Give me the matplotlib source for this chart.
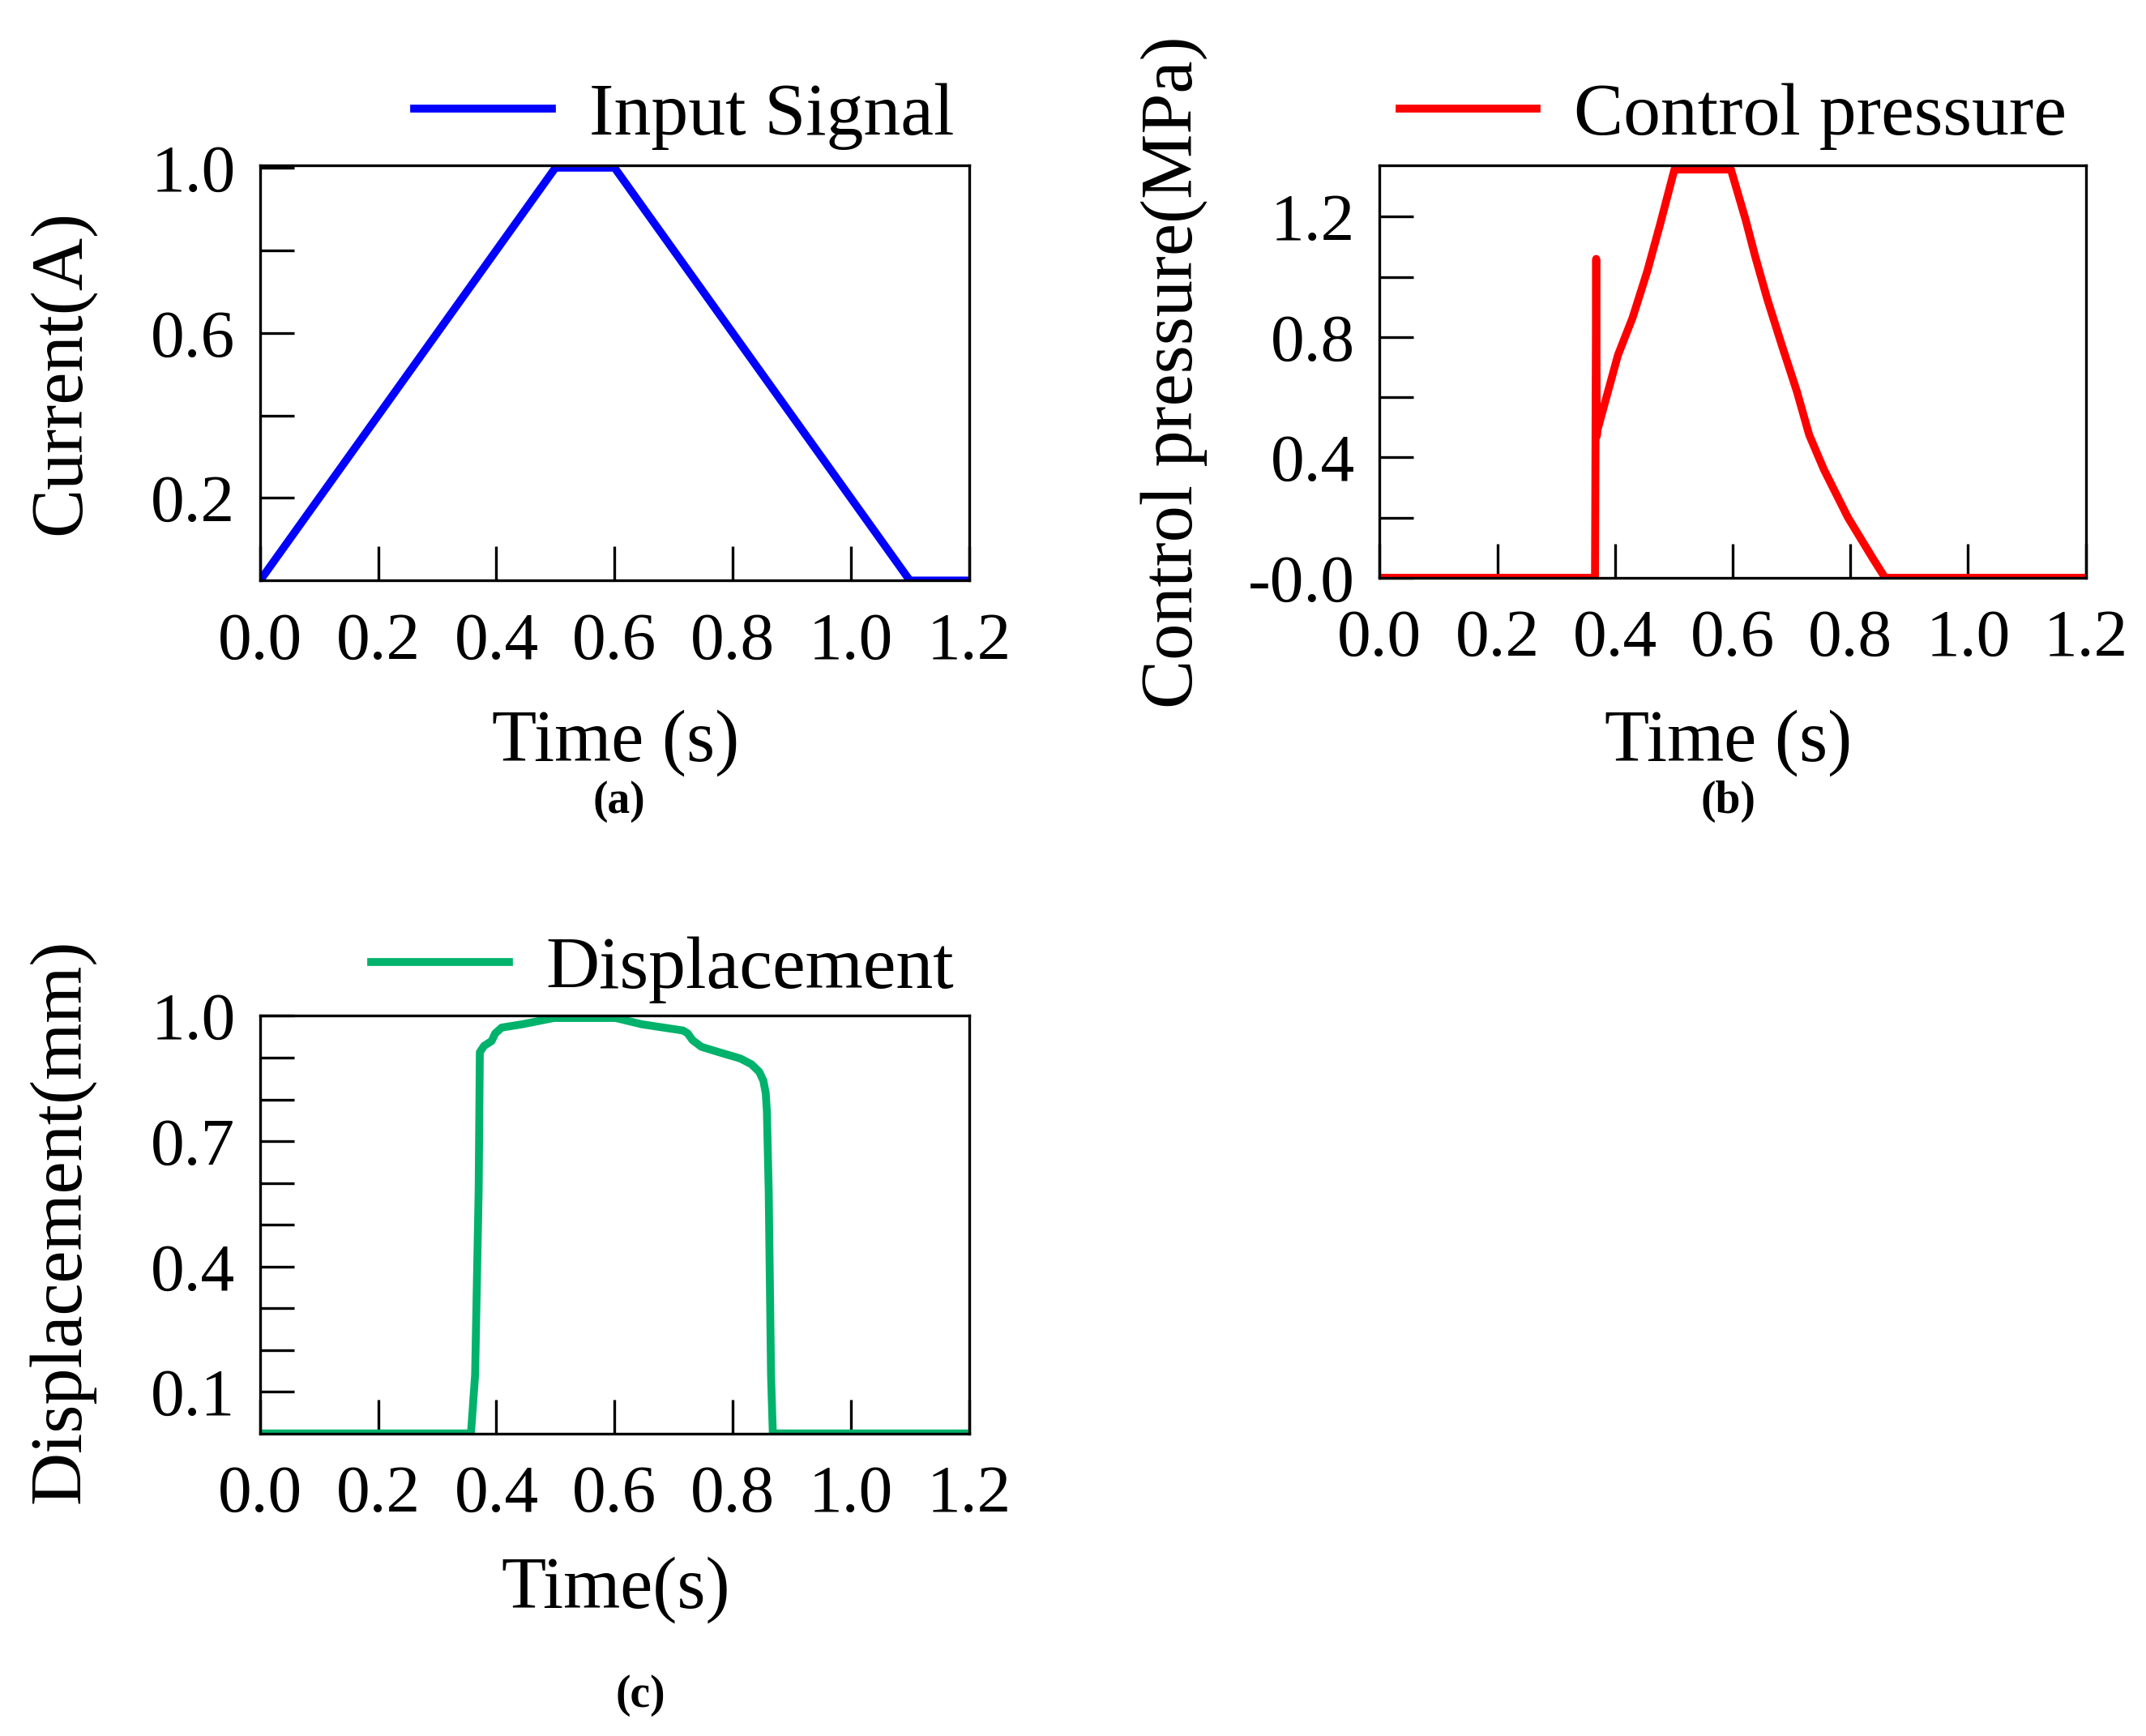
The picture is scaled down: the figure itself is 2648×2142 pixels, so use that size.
import numpy as np
import matplotlib
matplotlib.use("Agg")
import matplotlib.pyplot as plt

plt.rcParams['font.family'] = ['Liberation Serif', 'DejaVu Serif']

#%% data
t_in = [0.0, 0.5, 0.6, 1.1, 1.2]
i_in = [0.0, 1.0, 1.0, 0.0, 0.0]

t_p = [0.0, 0.366, 0.368, 0.369, 0.370, 0.384, 0.405, 0.430, 0.455, 0.476, 0.501,
       0.597, 0.622, 0.638, 0.659, 0.684, 0.709, 0.730, 0.755, 0.796, 0.838, 0.859, 1.2]
p_c = [0.0, 0.0, 1.06, 0.47, 0.49, 0.59, 0.74, 0.865, 1.02, 1.17, 1.357,
       1.357, 1.19, 1.07, 0.925, 0.77, 0.62, 0.475, 0.36, 0.20, 0.065, 0.0, 0.0]

t_d = [0.0, 0.357, 0.364, 0.370, 0.372, 0.379, 0.392, 0.398, 0.409, 0.444, 0.497,
       0.602, 0.646, 0.716, 0.724, 0.732, 0.747, 0.777, 0.813, 0.832, 0.845, 0.852,
       0.856, 0.858, 0.861, 0.865, 0.868, 1.2]
disp = [0.0, 0.0, 0.14, 0.58, 0.913, 0.928, 0.940, 0.958, 0.972, 0.980, 0.995,
        0.995, 0.980, 0.965, 0.958, 0.942, 0.926, 0.913, 0.898, 0.884, 0.866, 0.845,
        0.815, 0.771, 0.584, 0.14, 0.0, 0.0]

xticks = [0.0, 0.2, 0.4, 0.6, 0.8, 1.0, 1.2]
xlabels = ['0.0', '0.2', '0.4', '0.6', '0.8', '1.0', '1.2']
a_yticks = [0.2, 0.6, 1.0]
a_ylabels = ['0.2', '0.6', '1.0']
a_yminor = [0.4, 0.8]
b_yticks = [0.0, 0.4, 0.8, 1.2]
b_ylabels = ['-0.0', '0.4', '0.8', '1.2']
b_yminor = [0.2, 0.6, 1.0]
c_yticks = [0.1, 0.4, 0.7, 1.0]
c_ylabels = ['0.1', '0.4', '0.7', '1.0']
c_yminor = [0.2, 0.3, 0.5, 0.6, 0.8, 0.9]

FS = 60
LFS = 65

fig = plt.figure(figsize=(26.48, 21.42), dpi=100)
axa = fig.add_axes([0.1212, 0.6656, 0.3303, 0.2390])
axb = fig.add_axes([0.6429, 0.6672, 0.3290, 0.2374])
axc = fig.add_axes([0.1212, 0.1743, 0.3303, 0.2405])


def style(ax, yt, ylab, ymin):
    ax.set_xlim(0, 1.2)
    ax.set_xticks(xticks)
    ax.set_xticklabels(xlabels)
    ax.set_yticks(yt)
    ax.set_yticklabels(ylab)
    ax.set_yticks(ymin, minor=True)
    ax.tick_params(which='both', direction='in', length=30, width=2.4,
                   labelsize=FS, top=False, right=False)
    ax.tick_params(axis='y', pad=22)
    ax.tick_params(axis='x', pad=28)
    for s in ax.spines.values():
        s.set_linewidth(2.4)


axa.plot(t_in, i_in, color='#0000ff', lw=7, label='Input Signal')
axa.set_ylim(0, 1.005)
style(axa, a_yticks, a_ylabels, a_yminor)

axb.plot(t_p, p_c, color='#ff0000', lw=7, label='Control pressure')
axb.set_ylim(0, 1.37)
style(axb, b_yticks, b_ylabels, b_yminor)

axc.plot(t_d, disp, color='#00b26b', lw=7, label='Displacement')
axc.set_ylim(0, 1.0)
style(axc, c_yticks, c_ylabels, c_yminor)

for ax, x, y in [(axa, 0.4445, 0.933), (axb, 0.963, 0.933), (axc, 0.4445, 0.4415)]:
    ax.legend(loc='center right', bbox_to_anchor=(x, y), bbox_transform=fig.transFigure,
              frameon=False, fontsize=66, handlelength=1.85, handletextpad=0.5,
              borderpad=0, borderaxespad=0)

fig.text(0.0287, 0.7855, 'Current(A)', rotation=90, ha='center', va='center', fontsize=LFS)
fig.text(0.547, 0.7855, 'Control pressure(MPa)', rotation=90, ha='center', va='center', fontsize=LFS)
fig.text(0.0287, 0.2965, 'Displacement(mm)', rotation=90, ha='center', va='center', fontsize=LFS)

fig.text(0.287, 0.572, 'Time (s)', ha='center', va='center', fontsize=LFS)
fig.text(0.8055, 0.572, 'Time (s)', ha='center', va='center', fontsize=LFS)
fig.text(0.287, 0.0842, 'Time(s)', ha='center', va='center', fontsize=LFS)

fig.text(0.2883, 0.5385, '(a)', ha='center', va='center', fontsize=40, fontweight='bold')
fig.text(0.8055, 0.5385, '(b)', ha='center', va='center', fontsize=40, fontweight='bold')
fig.text(0.2985, 0.0235, '(c)', ha='center', va='center', fontsize=40, fontweight='bold')

fig.savefig('out.png', dpi=100)
